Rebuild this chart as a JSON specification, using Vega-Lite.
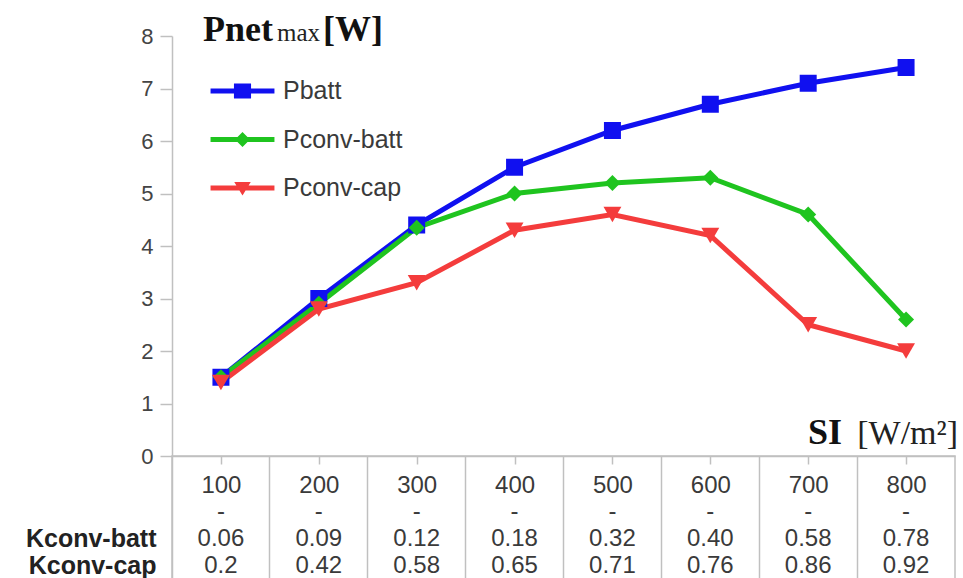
{
  "$schema": "https://vega.github.io/schema/vega-lite/v6.json",
  "background": "white",
  "padding": {"left": 24, "top": 12, "right": 0, "bottom": 0},
  "spacing": 0,
  "bounds": "flush",
  "config": {"view": {"stroke": null}, "font": "Liberation Sans"},
  "datasets": {
    "power": [
      {"SI": 100, "series": "Pbatt", "P": 1.5},
      {"SI": 200, "series": "Pbatt", "P": 3.0},
      {"SI": 300, "series": "Pbatt", "P": 4.4},
      {"SI": 400, "series": "Pbatt", "P": 5.5},
      {"SI": 500, "series": "Pbatt", "P": 6.2},
      {"SI": 600, "series": "Pbatt", "P": 6.7},
      {"SI": 700, "series": "Pbatt", "P": 7.1},
      {"SI": 800, "series": "Pbatt", "P": 7.4},
      {"SI": 100, "series": "Pconv-batt", "P": 1.5},
      {"SI": 200, "series": "Pconv-batt", "P": 2.9},
      {"SI": 300, "series": "Pconv-batt", "P": 4.35},
      {"SI": 400, "series": "Pconv-batt", "P": 5.0},
      {"SI": 500, "series": "Pconv-batt", "P": 5.2},
      {"SI": 600, "series": "Pconv-batt", "P": 5.3},
      {"SI": 700, "series": "Pconv-batt", "P": 4.6},
      {"SI": 800, "series": "Pconv-batt", "P": 2.6},
      {"SI": 100, "series": "Pconv-cap", "P": 1.4},
      {"SI": 200, "series": "Pconv-cap", "P": 2.8},
      {"SI": 300, "series": "Pconv-cap", "P": 3.3},
      {"SI": 400, "series": "Pconv-cap", "P": 4.3},
      {"SI": 500, "series": "Pconv-cap", "P": 4.6},
      {"SI": 600, "series": "Pconv-cap", "P": 4.2},
      {"SI": 700, "series": "Pconv-cap", "P": 2.5},
      {"SI": 800, "series": "Pconv-cap", "P": 2.0}
    ],
    "table": [
      {"SI": 100, "dash": "-", "Kconv-batt": "0.06", "Kconv-cap": "0.2"},
      {"SI": 200, "dash": "-", "Kconv-batt": "0.09", "Kconv-cap": "0.42"},
      {"SI": 300, "dash": "-", "Kconv-batt": "0.12", "Kconv-cap": "0.58"},
      {"SI": 400, "dash": "-", "Kconv-batt": "0.18", "Kconv-cap": "0.65"},
      {"SI": 500, "dash": "-", "Kconv-batt": "0.32", "Kconv-cap": "0.71"},
      {"SI": 600, "dash": "-", "Kconv-batt": "0.40", "Kconv-cap": "0.76"},
      {"SI": 700, "dash": "-", "Kconv-batt": "0.58", "Kconv-cap": "0.86"},
      {"SI": 800, "dash": "-", "Kconv-batt": "0.78", "Kconv-cap": "0.92"}
    ]
  },
  "vconcat": [
    {
      "width": 783,
      "height": 420,
      "data": {"name": "power"},
      "layer": [
        {
          "mark": {"type": "line", "strokeWidth": 5},
          "encoding": {
            "x": {
              "field": "SI", "type": "ordinal",
              "scale": {"type": "point", "padding": 0.5},
              "axis": {"title": null, "labelAngle": 0, "grid": false, "domainColor": "#c0c0c0", "domainWidth": 1.5, "tickColor": "#c0c0c0", "tickWidth": 1.5, "tickSize": 8, "labelFontSize": 24, "labelColor": "#3a3a3a", "labelPadding": 9, "labelFont": "Liberation Sans"}
            },
            "y": {
              "field": "P", "type": "quantitative",
              "scale": {"domain": [0, 8]},
              "axis": {"title": null, "values": [0, 1, 2, 3, 4, 5, 6, 7, 8], "grid": false, "domainColor": "#c0c0c0", "domainWidth": 1.5, "tickColor": "#c0c0c0", "tickWidth": 1.5, "tickSize": 12, "labelFontSize": 22, "labelColor": "#444444", "labelPadding": 7, "labelFont": "Liberation Sans"}
            },
            "color": {
              "field": "series", "type": "nominal",
              "scale": {"domain": ["Pbatt", "Pconv-batt", "Pconv-cap"], "range": ["#1010f0", "#1fc41f", "#f43c3c"]},
              "legend": {
                "title": null, "orient": "none", "legendX": 55.5, "legendY": 40,
                "padding": 0, "symbolSize": 900, "symbolStrokeWidth": 0,
                "labelFontSize": 25, "labelColor": "#3a3a3a", "labelFont": "Liberation Sans",
                "labelOffset": 25.5, "rowPadding": 20.5,
                "encode": {
                  "symbols": {
                    "update": {
                      "shape": {"signal": "datum.value === 'Pbatt' ? 'M-2.13,-0.17H2.13V0.17H-2.13Z M-0.57,-0.5H0.57V0.5H-0.57Z' : (datum.value === 'Pconv-batt' ? 'M-2.13,-0.17H2.13V0.17H-2.13Z M0,-0.5L0.5,0L0,0.5L-0.5,0Z' : 'M-2.13,-0.17H2.13V0.17H-2.13Z M-0.55,-0.4H0.55L0,0.5Z')"},
                      "fill": {"scale": "color", "field": "value"},
                      "stroke": {"value": "transparent"},
                      "opacity": {"value": 1},
                      "fillOpacity": {"value": 1}
                    }
                  }
                }
              }
            }
          }
        },
        {
          "transform": [{"filter": "datum.series === 'Pbatt'"}],
          "mark": {"type": "point", "filled": true, "opacity": 1, "shape": "square", "size": 289},
          "encoding": {
            "x": {"field": "SI", "type": "ordinal"},
            "y": {"field": "P", "type": "quantitative"},
            "color": {"field": "series", "type": "nominal"}
          }
        },
        {
          "transform": [{"filter": "datum.series === 'Pconv-batt'"}],
          "mark": {"type": "point", "filled": true, "opacity": 1, "shape": "diamond", "size": 256},
          "encoding": {
            "x": {"field": "SI", "type": "ordinal"},
            "y": {"field": "P", "type": "quantitative"},
            "color": {"field": "series", "type": "nominal"}
          }
        },
        {
          "transform": [{"filter": "datum.series === 'Pconv-cap'"}],
          "mark": {"type": "point", "filled": true, "opacity": 1, "shape": "triangle-down", "size": 320},
          "encoding": {
            "x": {"field": "SI", "type": "ordinal"},
            "y": {"field": "P", "type": "quantitative"},
            "color": {"field": "series", "type": "nominal"}
          }
        },
        {
          "data": {"values": [{"t": "Pnet"}]},
          "mark": {"type": "text", "font": "Liberation Serif", "fontWeight": "bold", "fontSize": 36, "align": "left", "baseline": "alphabetic", "dx": -18, "dy": 5, "color": "#111"},
          "encoding": {"x": {"datum": 100, "type": "ordinal"}, "y": {"datum": 8, "type": "quantitative"}, "text": {"field": "t"}}
        },
        {
          "data": {"values": [{"t": "max"}]},
          "mark": {"type": "text", "font": "Liberation Serif", "fontSize": 25, "align": "left", "baseline": "alphabetic", "dx": 56, "dy": 5, "color": "#222"},
          "encoding": {"x": {"datum": 100, "type": "ordinal"}, "y": {"datum": 8, "type": "quantitative"}, "text": {"field": "t"}}
        },
        {
          "data": {"values": [{"t": "[W]"}]},
          "mark": {"type": "text", "font": "Liberation Serif", "fontWeight": "bold", "fontSize": 36, "align": "left", "baseline": "alphabetic", "dx": 102, "dy": 5, "color": "#111"},
          "encoding": {"x": {"datum": 100, "type": "ordinal"}, "y": {"datum": 8, "type": "quantitative"}, "text": {"field": "t"}}
        },
        {
          "data": {"values": [{"t": "SI"}]},
          "mark": {"type": "text", "font": "Liberation Serif", "fontWeight": "bold", "fontSize": 36, "align": "right", "baseline": "alphabetic", "dx": -64, "dy": -12, "color": "#111"},
          "encoding": {"x": {"datum": 800, "type": "ordinal"}, "y": {"datum": 0, "type": "quantitative"}, "text": {"field": "t"}}
        },
        {
          "data": {"values": [{"t": "[W/m²]"}]},
          "mark": {"type": "text", "font": "Liberation Serif", "fontSize": 34, "align": "right", "baseline": "alphabetic", "dx": 52, "dy": -12, "color": "#222"},
          "encoding": {"x": {"datum": 800, "type": "ordinal"}, "y": {"datum": 0, "type": "quantitative"}, "text": {"field": "t"}}
        }
      ]
    },
    {
      "width": 783,
      "height": 123,
      "data": {"name": "table"},
      "view": {"stroke": "#c0c0c0", "strokeWidth": 1.5},
      "transform": [{"fold": ["dash", "Kconv-batt", "Kconv-cap"], "as": ["row", "val"]}],
      "mark": {"type": "text", "fontSize": 24, "color": "#3a3a3a", "font": "Liberation Sans", "baseline": "middle"},
      "encoding": {
        "x": {
          "field": "SI", "type": "ordinal",
          "scale": {"type": "band", "paddingInner": 0, "paddingOuter": 0},
          "axis": {"title": null, "labels": false, "ticks": false, "domain": false, "grid": true, "gridColor": "#c0c0c0", "gridWidth": 1.5, "bandPosition": 0}
        },
        "y": {
          "field": "row", "type": "ordinal",
          "scale": {"type": "band", "domain": ["si", "dash", "Kconv-batt", "Kconv-cap"], "paddingInner": 0, "paddingOuter": 0.278, "align": 1},
          "axis": {"title": null, "ticks": false, "domain": false, "grid": false, "labelExpr": "datum.value === 'si' || datum.value === 'dash' ? '' : datum.value", "labelFontSize": 25, "labelFontWeight": "bold", "labelColor": "#222", "labelPadding": 16, "labelFont": "Liberation Sans"}
        },
        "text": {"field": "val"}
      }
    }
  ]
}
